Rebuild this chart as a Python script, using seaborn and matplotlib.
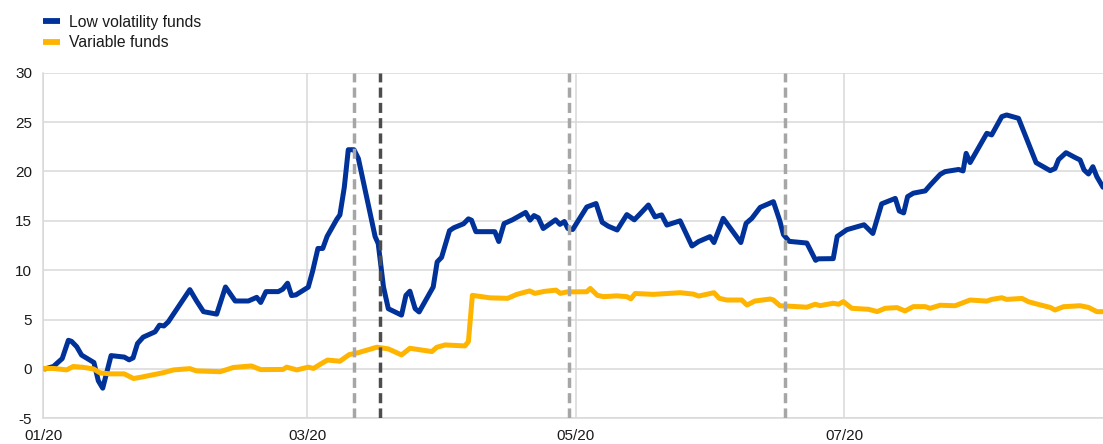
import pandas as pd
import matplotlib.pyplot as plt
import matplotlib.dates as mdates
import seaborn as sns

# days since 1 Jan 2020
blue_day = [0.4, 2.3, 4.3, 5.7, 6.4, 7.6, 8.7, 11.5, 12.5, 13.5,
            15.4, 18.4, 19.5, 20.4, 21.4, 22.7, 25.4, 26.4, 27.4, 28.4,
            33.3, 34.8, 36.4, 39.4, 41.4, 43.6, 46.6, 48.5, 49.4, 50.6,
            53.4, 54.4, 55.5, 56.4, 57.4, 60.2, 61.2, 62.4, 63.5, 64.5,
            66.7, 67.4, 68.4, 69.3, 70.6, 71.6, 75.4, 76.1, 77.3, 78.4,
            81.4, 82.4, 83.3, 84.5, 85.4, 88.6, 89.5, 90.5, 92.3, 93.3,
            95.5, 96.6, 97.3, 98.3, 102.6, 103.5, 104.7, 106.6, 109.6, 110.6,
            111.5, 112.5, 113.6, 116.4, 117.4, 118.4, 119.2, 120.3, 123.5, 125.6,
            127.0, 128.4, 130.4, 132.6, 134.3, 135.6, 137.5, 139.0, 140.5, 141.7,
            144.7, 147.4, 148.9, 151.5, 152.4, 154.5, 158.5, 159.7, 161.0, 162.9,
            165.9, 167.3, 168.2, 169.5, 173.5, 175.5, 176.1, 179.5, 180.4, 182.6,
            186.5, 188.5, 190.5, 193.6, 194.5, 195.5, 196.4, 197.7, 200.4, 201.5,
            203.8, 204.9, 208.0, 209.0, 209.7, 210.6, 214.4, 215.5, 217.8, 218.9,
            221.6, 224.3, 225.6, 228.8, 229.9, 230.7, 232.4, 234.5, 235.6, 236.5,
            237.5, 238.5, 239.4, 240.8]
blue_val = [0.0, 0.25, 1.05, 2.9, 2.8, 2.25, 1.4, 0.65, -1.2, -1.95,
            1.35, 1.2, 0.92, 1.12, 2.57, 3.22, 3.76, 4.43, 4.35, 4.77,
            8.03, 6.9, 5.8, 5.55, 8.3, 6.88, 6.88, 7.25, 6.73, 7.83,
            7.83, 8.07, 8.68, 7.43, 7.5, 8.28, 9.9, 12.2, 12.2, 13.43,
            15.16, 15.6, 18.4, 22.2, 22.2, 21.3, 13.4, 12.7, 8.3, 6.1,
            5.45, 7.45, 7.87, 6.1, 5.77, 8.3, 10.84, 11.3, 14.0, 14.3,
            14.7, 15.2, 15.06, 13.9, 13.9, 12.9, 14.72, 15.1, 15.85, 15.07,
            15.53, 15.3, 14.22, 15.1, 14.64, 14.93, 14.22, 14.12, 16.4, 16.75,
            14.85, 14.45, 14.07, 15.63, 15.1, 15.7, 16.6, 15.4, 15.6, 14.57,
            15.0, 12.45, 12.9, 13.4, 12.8, 15.25, 12.8, 14.75, 15.25, 16.36,
            16.94, 15.08, 13.6, 12.92, 12.75, 11.0, 11.15, 11.17, 13.42, 14.1,
            14.6, 13.72, 16.72, 17.27, 16.0, 15.8, 17.45, 17.8, 18.03, 18.6,
            19.7, 19.98, 20.2, 20.05, 21.83, 20.9, 23.86, 23.7, 25.55, 25.72,
            25.38, 22.34, 20.89, 20.08, 20.3, 21.2, 21.9, 21.4, 21.16, 20.15,
            19.74, 20.48, 19.47, 18.4]

yellow_day = [0.0, 2.3, 5.3, 6.8, 9.1, 11.4, 12.9, 15.2, 18.4, 20.5,
              22.3, 27.3, 29.6, 33.3, 34.8, 40.2, 43.2, 47.3, 49.4, 54.5,
              55.3, 57.6, 60.2, 61.4, 63.1, 64.6, 67.4, 69.5, 71.6, 75.8,
              78.4, 81.4, 83.3, 88.3, 89.4, 91.3, 95.8, 96.6, 97.5, 101.5,
              105.5, 107.6, 110.5, 111.7, 113.8, 116.5, 117.5, 119.0, 123.5, 124.3,
              125.9, 127.3, 130.3, 132.6, 133.5, 134.5, 138.6, 144.7, 147.7, 148.9,
              152.4, 153.6, 155.3, 158.7, 159.9, 161.7, 165.2, 165.9, 167.4, 169.7,
              173.5, 175.4, 176.5, 179.5, 180.7, 181.8, 183.7, 187.5, 189.5, 191.3,
              194.0, 195.8, 197.7, 200.4, 201.5, 203.8, 207.2, 210.6, 214.4, 215.5,
              217.8, 218.9, 222.4, 223.9, 225.8, 228.8, 229.9, 231.8, 235.6, 237.5,
              239.4, 240.8]
yellow_val = [0.05, 0.05, -0.1, 0.25, 0.16, 0.0, -0.4, -0.5, -0.5, -0.97,
              -0.83, -0.38, -0.1, 0.03, -0.2, -0.28, 0.15, 0.3, -0.07, -0.05,
              0.18, -0.1, 0.18, 0.05, 0.52, 0.9, 0.78, 1.45, 1.65, 2.2,
              2.03, 1.42, 2.09, 1.76, 2.19, 2.43, 2.33, 2.77, 7.45, 7.2,
              7.15, 7.55, 7.9, 7.65, 7.85, 7.98, 7.65, 7.8, 7.82, 8.15,
              7.45, 7.32, 7.4, 7.32, 7.1, 7.64, 7.55, 7.72, 7.58, 7.38,
              7.72, 7.15, 6.98, 6.98, 6.47, 6.88, 7.08, 6.98, 6.4, 6.35,
              6.25, 6.55, 6.41, 6.65, 6.55, 6.82, 6.14, 6.04, 5.81, 6.14,
              6.21, 5.87, 6.31, 6.31, 6.14, 6.45, 6.4, 6.98, 6.87, 7.04,
              7.21, 7.04, 7.14, 6.8, 6.57, 6.23, 5.97, 6.3, 6.4, 6.23,
              5.8, 5.8]

# vertical event markers (days since 1 Jan 2020)
event_day = [70.5, 76.5, 119.4, 168.6]
event_color = ['#a6a6a6', '#4d4d4d', '#a6a6a6', '#a6a6a6']

start = pd.Timestamp('2020-01-01')
to_date = lambda d: start + pd.to_timedelta(d, unit='D')

sns.set_theme(style="white")
plt.rcParams['font.family'] = ['Liberation Sans', 'DejaVu Sans']
plt.rcParams['axes.unicode_minus'] = False

fig = plt.figure(figsize=(11.03, 4.44), dpi=100)
ax = fig.add_axes([43.3 / 1103, 1 - 418.3 / 444, 1 - 43.3 / 1103, (418.3 - 72.7) / 444])

sns.lineplot(x=to_date(pd.Series(blue_day)), y=blue_val, ax=ax, color='#003299',
             linewidth=3.6, label='Low volatility funds', zorder=3)
sns.lineplot(x=to_date(pd.Series(yellow_day)), y=yellow_val, ax=ax, color='#ffb400',
             linewidth=3.6, label='Variable funds', zorder=3)

for d, c in zip(event_day, event_color):
    ax.axvline(to_date(d), color=c, linewidth=2.5, dashes=(2.9, 1.5), zorder=4)

ax.set_ylim(-5, 30)
ax.set_yticks(range(-5, 31, 5))
ax.set_xlim(to_date(0), to_date(240.8))
ax.xaxis.set_major_locator(mdates.MonthLocator(bymonth=[1, 3, 5, 7]))
ax.xaxis.set_major_formatter(mdates.DateFormatter('%m/%y'))

ax.grid(True, color='#d9d9d9', linewidth=1.1)
ax.set_axisbelow(True)
for side in ['top', 'right']:
    ax.spines[side].set_visible(False)
for side in ['left', 'bottom']:
    ax.spines[side].set_color('#d9d9d9')
    ax.spines[side].set_linewidth(1.1)
ax.tick_params(axis='both', length=0, pad=8, labelsize=11, colors='#1a1a1a')
ax.set_xlabel('')
ax.set_ylabel('')

handles, labels = ax.get_legend_handles_labels()
if ax.get_legend() is not None:
    ax.get_legend().remove()
leg = fig.legend(handles, labels, loc='upper left', bbox_to_anchor=(43.3 / 1103, 1 - 14.5 / 444),
                 frameon=False, fontsize=11.3, handlelength=1.05, handletextpad=0.6,
                 labelspacing=0.38, borderpad=0, borderaxespad=0)
for line in leg.get_lines():
    line.set_solid_capstyle('butt')
    line.set_linewidth(4.2)
for t in leg.get_texts():
    t.set_color('#1a1a1a')

fig.savefig('out.png', dpi=100)
